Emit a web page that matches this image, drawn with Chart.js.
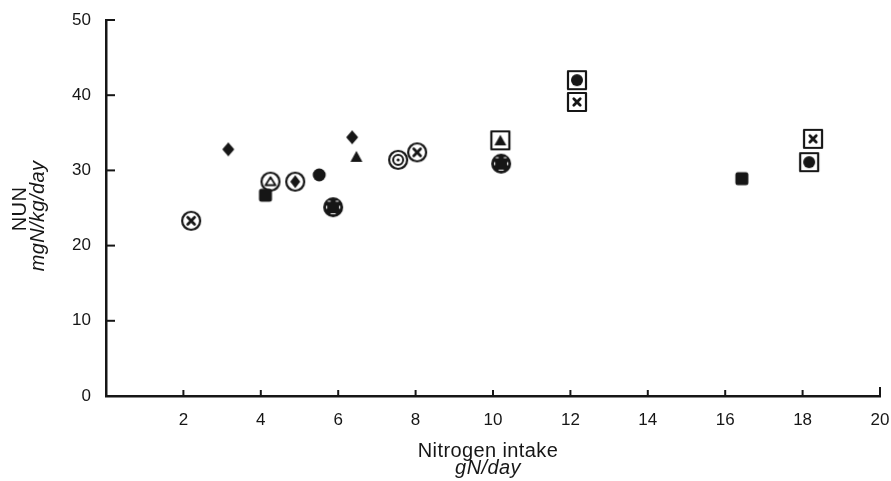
<!DOCTYPE html>
<html>
<head>
<meta charset="utf-8">
<script src="https://cdn.jsdelivr.net/npm/chart.js@4"></script>
<style>
  html, body { margin: 0; padding: 0; background: #fff; }
  #wrap { width: 891px; height: 481px; }
</style>
</head>
<body>
<div id="wrap"><canvas id="c" width="891" height="481"></canvas></div>
<script>
// ---- data ----
const intake = [2.2, 3.16, 4.12, 4.25, 4.89, 5.51, 5.87, 6.36, 6.47, 7.55, 8.04, 10.19, 10.21, 12.17, 12.17, 16.43, 18.27, 18.17];
const nun    = [23.3, 32.8, 26.7, 28.5, 28.5, 29.4, 25.1, 34.4, 31.8, 31.4, 32.4, 34.0, 30.9, 42.0, 39.1, 28.9, 34.2, 31.1];
const symbol = ['circX', 'diamond', 'fsquare', 'circTri', 'circDiamond', 'fcircle', 'bigCircle', 'diamond', 'ftri', 'target', 'circX', 'sqTri', 'bigCircle', 'sqCircle', 'sqX', 'fsquare', 'sqX', 'sqCircle'];
const xTicks = [2, 4, 6, 8, 10, 12, 14, 16, 18, 20];
const yTicks = [0, 10, 20, 30, 40, 50];
const xTitle = ['Nitrogen intake', 'gN/day'];
const yTitle = ['NUN', 'mgN/kg/day'];

const INK = '#161616';

// ---- marker glyphs (drawn once into small canvases used as pointStyle) ----
function makeGlyph(draw) {
  const c = document.createElement('canvas');
  c.width = 26; c.height = 26;
  const g = c.getContext('2d');
  g.translate(13, 13);
  g.strokeStyle = INK; g.fillStyle = INK;
  g.lineJoin = 'round'; g.lineCap = 'round';
  draw(g);
  return c;
}
function circ(g, r, lw) { g.beginPath(); g.arc(0, 0, r, 0, Math.PI * 2); g.lineWidth = lw; g.stroke(); }
function disc(g, r) { g.beginPath(); g.arc(0, 0, r, 0, Math.PI * 2); g.fill(); }
function cross(g, s, lw) { g.beginPath(); g.moveTo(-s, -s); g.lineTo(s, s); g.moveTo(s, -s); g.lineTo(-s, s); g.lineWidth = lw; g.stroke(); }
function box(g, s, lw) { g.lineWidth = lw; g.strokeRect(-s, -s, 2 * s, 2 * s); }
function diamondPath(g, hw, hh) { g.beginPath(); g.moveTo(0, -hh); g.lineTo(hw, 0); g.lineTo(0, hh); g.lineTo(-hw, 0); g.closePath(); }
function triPath(g, hw, top, bot) { g.beginPath(); g.moveTo(0, top); g.lineTo(hw, bot); g.lineTo(-hw, bot); g.closePath(); }
function seg(g, x1, y1, x2, y2) { g.moveTo(x1, y1); g.lineTo(x2, y2); }

const glyphs = {
  circX: makeGlyph(g => { circ(g, 9, 2.2); cross(g, 3.4, 2.8); }),
  diamond: makeGlyph(g => { diamondPath(g, 6, 7); g.fill(); }),
  fsquare: makeGlyph(g => { g.beginPath(); g.roundRect(-6.5, -6.5, 13, 13, 2.5); g.fill(); }),
  circTri: makeGlyph(g => { circ(g, 9, 2.2); triPath(g, 5, -4.5, 3.5); g.lineWidth = 1.8; g.stroke(); }),
  circDiamond: makeGlyph(g => { circ(g, 9, 2.2); diamondPath(g, 5, 6.5); g.fill(); }),
  fcircle: makeGlyph(g => { disc(g, 6.5); }),
  bigCircle: makeGlyph(g => {
    disc(g, 10);
    g.strokeStyle = '#fff'; g.lineWidth = 1.2; g.lineCap = 'butt';
    g.beginPath();
    seg(g, -5.5, -6, -2.5, -6); seg(g, 2.5, -6, 5.5, -6);
    seg(g, -6.5, -1.5, -6.5, 1.5); seg(g, 6.5, -1.5, 6.5, 1.5);
    seg(g, -2.5, 6.5, 2.5, 6.5);
    g.stroke();
  }),
  ftri: makeGlyph(g => { triPath(g, 6, -6, 5); g.fill(); }),
  target: makeGlyph(g => { circ(g, 9, 2.2); circ(g, 5, 2); disc(g, 1.6); }),
  sqTri: makeGlyph(g => { box(g, 9, 2.2); triPath(g, 6, -5.5, 5); g.fill(); }),
  sqCircle: makeGlyph(g => { box(g, 9, 2.2); disc(g, 6); }),
  sqX: makeGlyph(g => { box(g, 9, 2.2); cross(g, 3.2, 2.8); })
};

// ---- build one dataset per symbol type ----
const order = [];
symbol.forEach(s => { if (!order.includes(s)) order.push(s); });
const datasets = order.map(s => ({
  label: s,
  data: intake.map((x, i) => ({ x, y: nun[i], s: symbol[i] })).filter(p => p.s === s).map(p => ({ x: p.x, y: p.y })),
  pointStyle: glyphs[s],
  pointRadius: 10,
  pointHoverRadius: 10,
  showLine: false
}));

// ---- inward tick marks + axis titles ----
const decor = {
  id: 'decor',
  afterDraw(chart) {
    const ctx = chart.ctx, xs = chart.scales.x, ys = chart.scales.y;
    const a = chart.chartArea;
    ctx.save();
    ctx.strokeStyle = INK; ctx.lineWidth = 2; ctx.lineCap = 'butt';
    xTicks.forEach(v => {
      const px = xs.getPixelForValue(v);
      ctx.beginPath(); ctx.moveTo(px, a.bottom); ctx.lineTo(px, a.bottom - (v === 20 ? 9 : 6)); ctx.stroke();
    });
    yTicks.forEach(v => {
      if (v === 0) return;
      const py = ys.getPixelForValue(v);
      ctx.beginPath(); ctx.moveTo(a.left, py); ctx.lineTo(a.left + 9, py); ctx.stroke();
    });
    ctx.fillStyle = INK;
    ctx.textAlign = 'center'; ctx.textBaseline = 'alphabetic';
    const cx = 488;
    try { ctx.letterSpacing = '0.4px'; } catch (e) {}
    ctx.font = '20px "Liberation Sans", Arial, sans-serif';
    ctx.fillText(xTitle[0], cx, 457);
    ctx.font = 'italic 20px "Liberation Sans", Arial, sans-serif';
    ctx.fillText(xTitle[1], cx, 474);
    const cy = 210;
    ctx.translate(0, cy); ctx.rotate(-Math.PI / 2);
    ctx.textBaseline = 'middle';
    ctx.font = '20px "Liberation Sans", Arial, sans-serif';
    ctx.fillText(yTitle[0], 1, 20);
    ctx.font = 'italic 20px "Liberation Sans", Arial, sans-serif';
    ctx.fillText(yTitle[1], -6, 38);
    ctx.restore();
  }
};

new Chart(document.getElementById('c'), {
  type: 'scatter',
  data: { datasets },
  options: {
    responsive: false,
    animation: false,
    events: [],
    layout: { padding: { top: 20, right: 11, left: 0, bottom: 0 } },
    plugins: { legend: { display: false }, tooltip: { enabled: false } },
    scales: {
      x: {
        type: 'linear', min: 0, max: 20,
        afterFit: s => { s.height = 85; s.paddingLeft = 0; s.paddingRight = 0; },
        afterBuildTicks: s => { s.ticks = xTicks.map(v => ({ value: v })); },
        grid: { display: false, drawTicks: false },
        border: { display: true, color: INK, width: 2.5 },
        ticks: {
          color: INK, padding: 14, maxRotation: 0, autoSkip: false,
          font: { family: '"Liberation Sans", Arial, sans-serif', size: 17 }
        }
      },
      y: {
        type: 'linear', min: 0, max: 50,
        afterFit: s => { s.width = 106; s.paddingTop = 0; s.paddingBottom = 0; },
        afterBuildTicks: s => { s.ticks = yTicks.map(v => ({ value: v })); },
        grid: { display: false, drawTicks: false },
        border: { display: true, color: INK, width: 2.5 },
        ticks: {
          color: INK, padding: 15, autoSkip: false,
          font: { family: '"Liberation Sans", Arial, sans-serif', size: 17 }
        }
      }
    }
  },
  plugins: [decor]
});
</script>
</body>
</html>
